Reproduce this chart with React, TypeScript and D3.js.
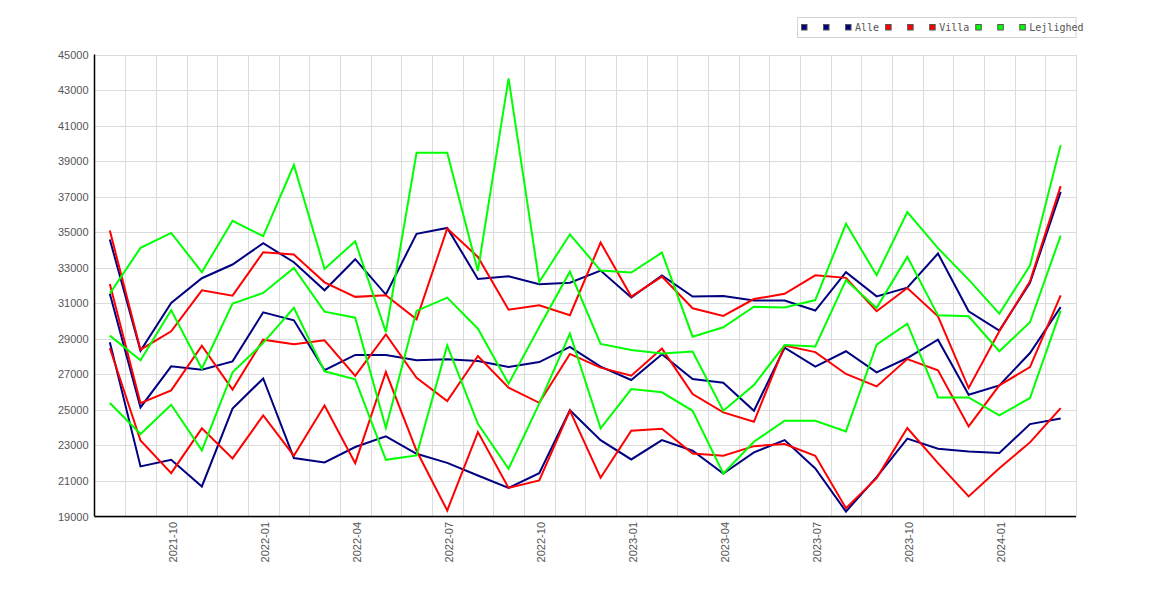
import * as d3 from 'd3';

const months = [
  '2021-08', '2021-09', '2021-10', '2021-11', '2021-12',
  '2022-01', '2022-02', '2022-03', '2022-04', '2022-05', '2022-06',
  '2022-07', '2022-08', '2022-09', '2022-10', '2022-11', '2022-12',
  '2023-01', '2023-02', '2023-03', '2023-04', '2023-05', '2023-06',
  '2023-07', '2023-08', '2023-09', '2023-10', '2023-11', '2023-12',
  '2024-01', '2024-02', '2024-03',
];

const xTickLabels = ['2021-10', '2022-01', '2022-04', '2022-07', '2022-10', '2023-01', '2023-04', '2023-07', '2023-10', '2024-01'];
const yTicks = [19000, 21000, 23000, 25000, 27000, 29000, 31000, 33000, 35000, 37000, 39000, 41000, 43000, 45000];

const alleHigh = [34590, 28330, 31020, 32410, 33180, 34380, 33310, 31730, 33480, 31490, 34910, 35240, 32370, 32520, 32070, 32160, 32840, 31320, 32560, 31380, 31410, 31150, 31150, 30590, 32750, 31390, 31880, 33800, 30550, 29460, 32150, 37270];
const alleMid = [31540, 25140, 27450, 27260, 27730, 30490, 30040, 27230, 28090, 28090, 27790, 27850, 27750, 27410, 27690, 28550, 27430, 26680, 28130, 26740, 26530, 24950, 28500, 27440, 28300, 27110, 27920, 28950, 25850, 26380, 28200, 30780];
const alleLow = [28800, 21820, 22190, 20690, 25070, 26770, 22290, 22040, 22910, 23510, 22530, 22020, 21310, 20610, 21440, 24980, 23300, 22210, 23300, 22700, 21420, 22610, 23300, 21700, 19280, 21220, 23380, 22810, 22660, 22570, 24200, 24520];

const villaHigh = [35090, 28390, 29420, 31730, 31430, 33870, 33740, 32180, 31360, 31450, 30100, 35210, 33610, 30640, 30890, 30330, 34420, 31380, 32500, 30720, 30290, 31240, 31530, 32570, 32430, 30550, 31860, 30270, 26230, 29420, 32240, 37590];
const villaMid = [32090, 25380, 26100, 28610, 26140, 28950, 28690, 28920, 26910, 29250, 26810, 25500, 28030, 26250, 25400, 28150, 27380, 26920, 28450, 25890, 24860, 24330, 28620, 28250, 27020, 26320, 27860, 27230, 24070, 26380, 27410, 31450];
const villaLow = [28480, 23280, 21440, 23960, 22270, 24690, 22420, 25250, 22000, 27130, 22700, 19340, 23750, 20610, 21030, 24960, 21180, 23830, 23940, 22550, 22420, 22960, 23080, 22420, 19470, 21160, 23980, 22000, 20130, 21720, 23170, 25100];

const lejlHigh = [31540, 34120, 34960, 32750, 35640, 34780, 38780, 32930, 34490, 29380, 39470, 39470, 32820, 43660, 32200, 34880, 32840, 32730, 33850, 29120, 29650, 30810, 30760, 31180, 35470, 32580, 36130, 34100, 32330, 30420, 33120, 39900];
const lejlMid = [29180, 27790, 30610, 27320, 30980, 31580, 32990, 30530, 30190, 23980, 30570, 31320, 29570, 26470, 29670, 32780, 28710, 28370, 28180, 28280, 24950, 26400, 28650, 28570, 32300, 30740, 33610, 30320, 30270, 28300, 29930, 34810];
const lejlLow = [25390, 23640, 25290, 22720, 27110, 28770, 30740, 27170, 26720, 22190, 22440, 28630, 24220, 21690, 25350, 29300, 23960, 26170, 25990, 24950, 21420, 23210, 24390, 24390, 23790, 28670, 29850, 25700, 25700, 24690, 25670, 30590];

const seriesNames = ['', '', 'Alle', '', '', 'Villa', '', '', 'Lejlighed'];
const seriesValues = [alleLow, alleMid, alleHigh, villaLow, villaMid, villaHigh, lejlLow, lejlMid, lejlHigh];
const seriesColors = ['#000080', '#000080', '#000080', '#ff0000', '#ff0000', '#ff0000', '#00ff00', '#00ff00', '#00ff00'];

const width = 1170;
const height = 600;
const margin = { top: 54.5, right: 94, bottom: 83.5, left: 94.5 };

const App = () => {
  const x = d3.scaleBand<string>()
    .domain(months)
    .range([margin.left, width - margin.right]);

  const y = d3.scaleLinear()
    .domain([19000, 45000])
    .range([height - margin.bottom, margin.top]);

  const cx = (m: string) => (x(m) as number) + x.bandwidth() / 2;

  const line = d3.line<number>()
    .x((_, i) => cx(months[i]))
    .y(d => y(d));

  // legend layout, monospace text so char width is fixed
  const charW = 6.02;
  let lx = 801.5;
  const legendItems = seriesNames.map((name, i) => {
    const item = { x: lx, name, color: seriesColors[i] };
    lx += 6 + 3.5 + Math.max(name.length, 1) * charW + 6.5;
    return item;
  });

  const gridXs = months.map(m => x(m) as number).slice(1).concat([width - margin.right]);

  return (
    <svg width={width} height={height} style={{ position: 'absolute', left: 0, top: 0, background: '#fff' }}>
      <g>
        {yTicks.map(t => (
          <line key={t} x1={margin.left} x2={width - margin.right} y1={Math.round(y(t)) + 0.5} y2={Math.round(y(t)) + 0.5} stroke="#dcdcdc" />
        ))}
        {gridXs.map((gx, i) => (
          <line key={i} x1={Math.round(gx) + 0.5} x2={Math.round(gx) + 0.5} y1={margin.top} y2={height - margin.bottom} stroke="#dcdcdc" />
        ))}
      </g>

      <g fill="none" strokeWidth={2} strokeLinejoin="miter">
        {seriesValues.map((vals, i) => (
          <path key={i} d={line(vals) as string} stroke={seriesColors[i]} />
        ))}
      </g>

      <line x1={margin.left} x2={margin.left} y1={margin.top} y2={height - margin.bottom} stroke="#000" strokeWidth={1.5} />
      <line x1={margin.left} x2={width - margin.right} y1={height - margin.bottom} y2={height - margin.bottom} stroke="#000" strokeWidth={1.5} />

      <g fontFamily="'Liberation Sans', Arial, sans-serif" fontSize={11} fill="#555">
        {yTicks.map(t => (
          <text key={t} x={88.5} y={y(t)} textAnchor="end" dominantBaseline="central">{t}</text>
        ))}
        {xTickLabels.map(m => (
          <text key={m} transform={`translate(${cx(m) + 1.5},522) rotate(-90)`} textAnchor="end" dominantBaseline="central">{m}</text>
        ))}
      </g>

      <g>
        <rect x={797.5} y={17.5} width={278.5} height={20} fill="#fff" stroke="#d4d4d4" />
        {legendItems.map((it, i) => (
          <g key={i}>
            <rect x={it.x} y={24.5} width={5.5} height={5.5} fill={it.color} stroke="#555" strokeWidth={1} />
            <text x={it.x + 9.5} y={27.5} fontFamily="'DejaVu Sans Mono', monospace" fontSize={10} fill="#555" dominantBaseline="central">{it.name}</text>
          </g>
        ))}
      </g>
    </svg>
  );
};

export default App;
